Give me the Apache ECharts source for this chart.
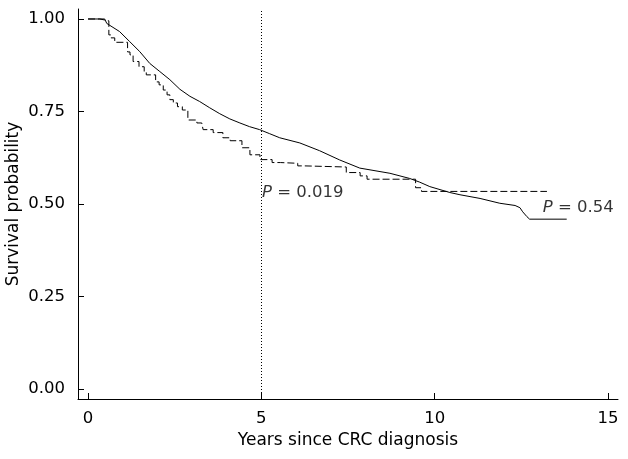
<!DOCTYPE html>
<html>
<head>
<meta charset="utf-8">
<script src="https://cdn.jsdelivr.net/npm/echarts@6/dist/echarts.min.js"></script>
<style>
html,body{margin:0;padding:0;background:#fff;}
#chart{width:628px;height:459px;}
</style>
</head>
<body>
<div id="chart"></div>
<script>
// Data
const xTicks = [0, 5, 10, 15];
const yTicks = [0, 0.25, 0.5, 0.75, 1.0];

// Solid curve (nearly continuous Kaplan-Meier curve)
const solidTime = [0, 0.48, 0.54, 0.91, 1.20, 1.49, 1.78, 2.07, 2.36, 2.65, 2.94, 3.22, 3.51, 3.80, 4.09, 4.38, 4.66, 4.95, 5.24, 5.53, 6.11, 6.68, 7.26, 7.84, 8.71, 9.28, 9.57, 9.86, 10.44, 10.73, 11.31, 11.88, 12.32, 12.46, 12.54, 12.66, 12.74, 13.81];
const solidSurv = [1.0, 1.0, 0.988, 0.966, 0.939, 0.912, 0.880, 0.858, 0.836, 0.810, 0.791, 0.777, 0.760, 0.744, 0.730, 0.719, 0.709, 0.701, 0.690, 0.679, 0.665, 0.644, 0.619, 0.597, 0.583, 0.569, 0.559, 0.547, 0.531, 0.525, 0.515, 0.502, 0.496, 0.490, 0.479, 0.466, 0.459, 0.459];

// Dashed curve (step Kaplan-Meier curve): event time, survival after event
const dashTime = [0, 0.34, 0.60, 0.66, 0.77, 1.14, 1.21, 1.30, 1.47, 1.62, 1.68, 1.95, 2.05, 2.17, 2.28, 2.36, 2.46, 2.58, 2.72, 2.88, 3.14, 3.28, 3.32, 3.61, 3.89, 4.10, 4.44, 4.67, 4.96, 5.31, 5.55, 6.05, 6.25, 7.45, 7.85, 8.05, 9.45, 9.62, 13.24];
const dashSurv = [1.0, 0.995, 0.957, 0.949, 0.937, 0.911, 0.903, 0.885, 0.871, 0.858, 0.849, 0.830, 0.822, 0.808, 0.795, 0.782, 0.773, 0.763, 0.754, 0.727, 0.719, 0.714, 0.701, 0.693, 0.679, 0.671, 0.652, 0.633, 0.620, 0.612, 0.610, 0.603, 0.600, 0.585, 0.576, 0.567, 0.544, 0.534, 0.534];

const refLineX = 5;
const pText1 = '0.019';
const pText2 = '0.54';

const FONT = 'DejaVu Sans';
const chart = echarts.init(document.getElementById('chart'), null, {renderer: 'canvas'});

const solidData = solidTime.map((t, i) => [t, solidSurv[i]]);
const dashData = dashTime.map((t, i) => [t, dashSurv[i]]);

const option = {
  animation: false,
  backgroundColor: '#ffffff',
  grid: {left: 78, right: 10, top: 9, bottom: 60, containLabel: false, outerBoundsMode: 'none'},
  xAxis: {
    type: 'value',
    min: -0.29, max: 15.29,
    splitLine: {show: false},
    axisLine: {show: true, onZero: false, lineStyle: {color: '#000', width: 1}},
    axisTick: {show: true, inside: true, length: 6, customValues: xTicks, lineStyle: {color: '#000'}},
    axisLabel: {show: true, customValues: xTicks, color: '#000', fontFamily: FONT, fontSize: 16.5, margin: 11},
    name: 'Years since CRC diagnosis',
    nameLocation: 'middle',
    nameGap: 33,
    nameTextStyle: {color: '#000', fontFamily: FONT, fontSize: 17}
  },
  yAxis: {
    type: 'value',
    min: -0.027, max: 1.027,
    splitLine: {show: false},
    axisLine: {show: true, onZero: false, lineStyle: {color: '#000', width: 1}},
    axisTick: {show: true, inside: true, length: 6, customValues: yTicks, lineStyle: {color: '#000'}},
    axisLabel: {show: true, customValues: yTicks, color: '#000', fontFamily: FONT, fontSize: 16.5, margin: 13,
      formatter: v => Number(v).toFixed(2)},
    name: 'Survival probability',
    nameLocation: 'middle',
    nameGap: 56,
    nameRotate: 90,
    nameMoveOverlap: false,
    nameTextStyle: {color: '#000', fontFamily: FONT, fontSize: 17}
  },
  series: [
    {
      type: 'line',
      data: solidData,
      showSymbol: false,
      symbol: 'none',
      lineStyle: {color: '#000', width: 1},
      z: 3,
      markLine: {
        silent: true,
        symbol: ['none', 'none'],
        label: {show: false},
        lineStyle: {color: '#000', width: 1, type: [1, 2]},
        data: [{xAxis: refLineX}]
      }
    },
    {
      type: 'line',
      data: dashData,
      step: 'end',
      showSymbol: false,
      symbol: 'none',
      lineStyle: {color: '#000', width: 1, type: [7, 3]},
      z: 3
    },
    {
      type: 'scatter',
      symbolSize: 0,
      silent: true,
      data: [[5.02, 0.53, 'a'], [13.12, 0.489, 'b']],
      label: {
        show: true,
        position: 'right',
        distance: 0,
        formatter: p => '{i|P} = ' + (p.data[2] === 'a' ? pText1 : pText2),
        color: '#000',
        fontFamily: FONT,
        fontSize: 16.5,
        rich: {i: {fontStyle: 'italic', fontFamily: FONT, fontSize: 16.5, color: '#000'}}
      }
    }
  ]
};
chart.setOption(option);
</script>
</body>
</html>
